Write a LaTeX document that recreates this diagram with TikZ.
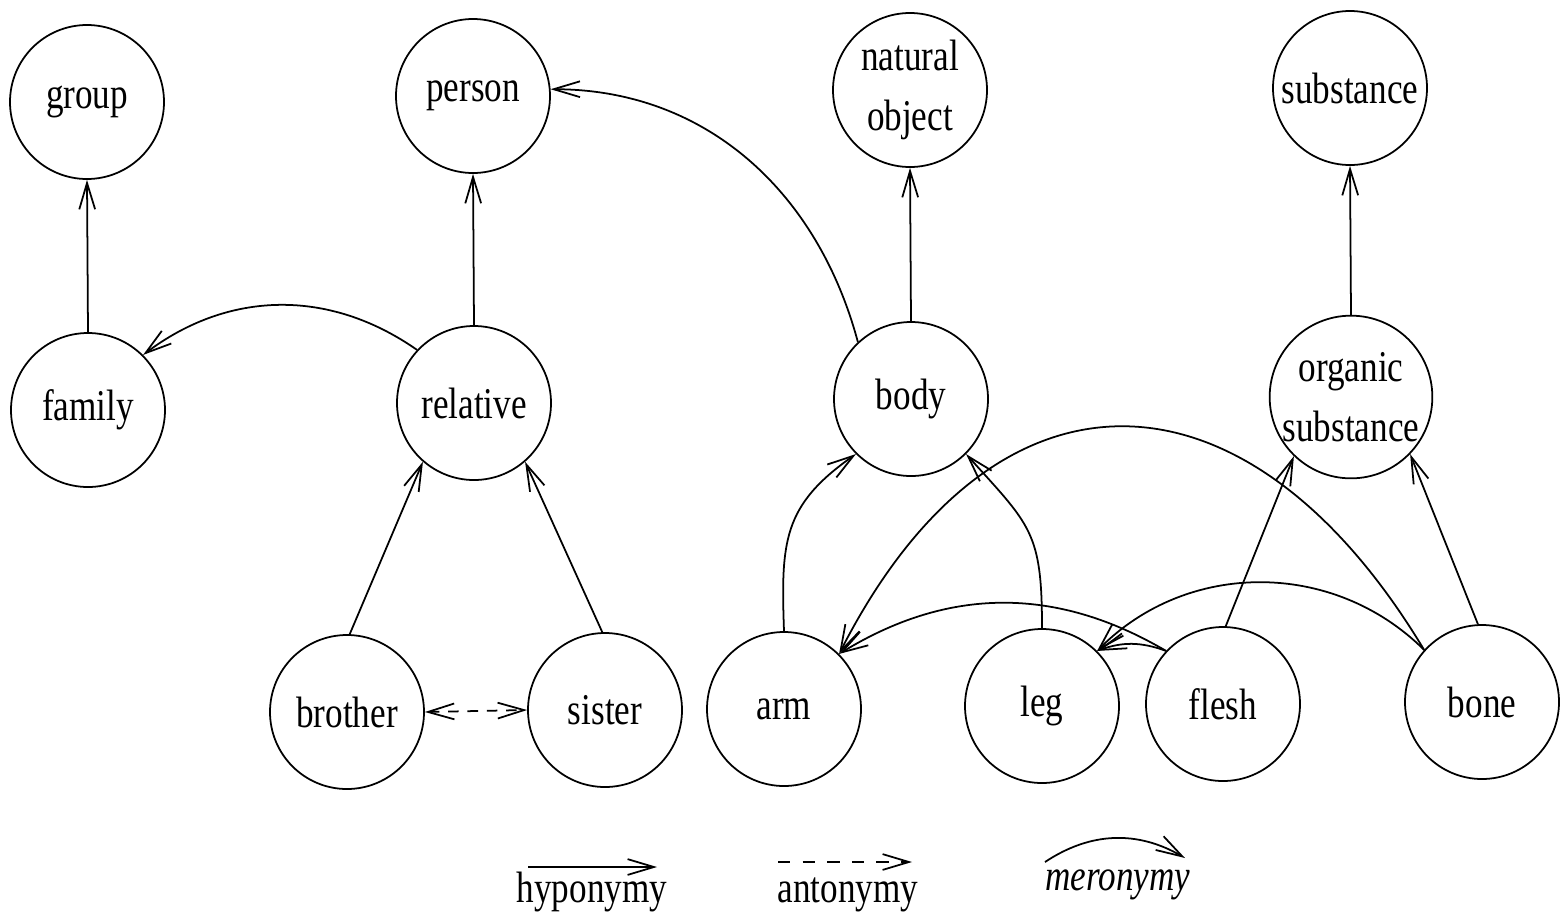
\documentclass[tikz,border=0pt]{standalone}
\usepackage{fontspec}
\newfontfamily\wnfont[FakeStretch=0.8]{Liberation Serif}
\usetikzlibrary{positioning,arrows.meta}
\tikzset{>={Straight Barb[length=15pt,width=9pt]}}
\tikzset{
  concept/.style={draw,circle,line width=1pt,minimum size=3.08cm,inner sep=0pt,
    align=center,font=\wnfont\fontsize{25}{34}\selectfont},
  legendtext/.style={anchor=base,inner sep=0pt,font=\wnfont\fontsize{25}{34}\selectfont},
  hypo/.style={->,line width=1pt},
  mero/.style={->,line width=1pt},
  anto/.style={<->,line width=1pt,dash pattern=on 6pt off 5pt}
}

\begin{document}
\begin{tikzpicture}
\useasboundingbox (0,0) rectangle (31.32,-18.46);
\node[concept] (group) at (1.74,-2.04) {group};
\node[concept] (person) at (9.46,-1.92) {person};
\node[concept] (natobj) at (18.2,-1.8) {natural\\object};
\node[concept] (substance) at (27.0,-1.76) {substance};
\node[concept] (family) at (1.76,-8.2) {family};
\node[concept] (relative) at (9.48,-8.06) {relative};
\node[concept] (body) at (18.22,-7.98) {body};
\node[concept] (orgsub) at (27.02,-7.94) {organic\\substance};
\node[concept] (brother) at (6.94,-14.24) {brother};
\node[concept] (sister) at (12.1,-14.2) {sister};
\node[concept] (arm) at (15.68,-14.18) {arm};
\node[concept] (leg) at (20.84,-14.12) {leg};
\node[concept] (flesh) at (24.46,-14.08) {flesh};
\node[concept] (bone) at (29.64,-14.04) {bone};
\foreach \a/\b in {family/group,relative/person,body/natobj,orgsub/substance} {
  \draw[hypo] (\a.north) -- (\b.south);
}
\draw[hypo] (brother.88) -- (relative.229);
\draw[hypo] (sister.92) -- (relative.311);
\draw[hypo] (flesh.88) -- (orgsub.226);
\draw[hypo] (bone.93) -- (orgsub.316);
\draw[anto] (brother.east) -- (sister.west);
\draw[mero] (relative.137) to[bend right=36] (family.45);
\draw[mero] (body.133) to[out=105,in=0] (person.5);
\draw[mero] (arm.north) to[out=92,in=215,looseness=1.2] (body.225);
\draw[mero] (leg.north) to[out=90,in=-48,looseness=1.3] (body.-45);
\draw[mero] (flesh.137) to[bend right=31] (arm.45);
\draw[mero] (flesh.137) to[bend right=20] (leg.45);
\draw[mero] (bone.138) to[out=121,in=63,looseness=1.5] (arm.45);
\draw[mero] (bone.138) to[bend right=45] (leg.45);
\coordinate (hypoA) at (10.56,-17.34);
\coordinate (hypoB) at (13.14,-17.34);
\draw[hypo] (hypoA) -- (hypoB);
\node[legendtext] (hypolbl) at (11.84,-18.04) {hyponymy};
\coordinate (antoA) at (15.56,-17.24);
\coordinate (antoB) at (18.24,-17.24);
\draw[->,line width=1pt,dash pattern=on 7pt off 7pt] (antoA) -- (antoB);
\node[legendtext] (antolbl) at (16.96,-18.04) {antonymy};
\coordinate (meroA) at (20.9,-17.24);
\coordinate (meroB) at (23.7,-17.16);
\draw[mero] (meroA) to[bend left=32] (meroB);
\node[legendtext,font=\wnfont\itshape\fontsize{25}{34}\selectfont] (merolbl) at (22.36,-17.8) {meronymy};
\end{tikzpicture}
\end{document}
